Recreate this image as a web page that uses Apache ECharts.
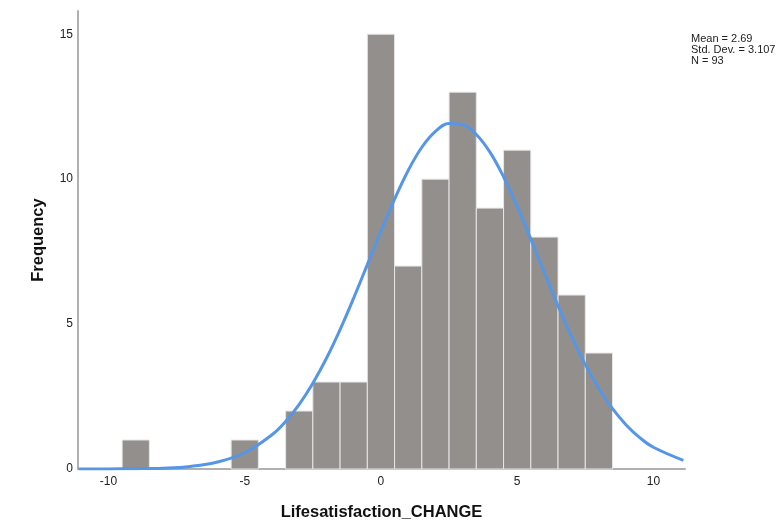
<!DOCTYPE html>
<html>
<head>
<meta charset="utf-8">
<script src="https://cdn.jsdelivr.net/npm/echarts@6/dist/echarts.min.js"></script>
<style>html,body{margin:0;padding:0;background:#fff}#c{width:784px;height:527px}</style>
</head>
<body>
<div id="c"></div>
<script>
// Histogram bins (centers, width 1) and counts
const binCenters = [-9, -5, -3, -2, -1, 0, 1, 2, 3, 4, 5, 6, 7, 8];
const binCounts  = [1, 1, 2, 3, 3, 15, 7, 10, 13, 9, 11, 8, 6, 4];
// Normal curve
const curveX = [-11.1, -10, -9, -8, -7, -6, -5, -4, -3.5, -3, -2.5, -2, -1.5, -1, -0.5, 0, 0.5, 1, 1.5, 2, 2.5, 3, 3.5, 4, 4.5, 5, 5.5, 6, 6.5, 7, 7.5, 8, 8.5, 9, 9.5, 10, 11.1];
const curveY = [0.001, 0.003, 0.01, 0.03, 0.09, 0.24, 0.56, 1.18, 1.64, 2.23, 2.96, 3.82, 4.81, 5.9, 7.05, 8.21, 9.31, 10.3, 11.1, 11.65, 11.92, 11.88, 11.54, 10.93, 10.08, 9.06, 7.93, 6.77, 5.63, 4.56, 3.6, 2.77, 2.08, 1.52, 1.08, 0.75, 0.3];
const xTicks = [-10, -5, 0, 5, 10];
const yTicks = [0, 5, 10, 15];
const statsLines = ['Mean = 2.69', 'Std. Dev. = 3.107', 'N = 93'];

const chart = echarts.init(document.getElementById('c'));
const font = 'Liberation Sans, Arial, sans-serif';
chart.setOption({
  animation: false,
  backgroundColor: '#fff',
  grid: {left: 78, right: 99, top: 11, bottom: 58},
  graphic: [{
    type: 'text', left: 691, top: 33,
    style: {text: statsLines.join('\n'), font: '11px ' + font, fill: '#222', lineHeight: 11}
  }],
  xAxis: {
    type: 'value', min: -11.12, max: 11.16,
    name: 'Lifesatisfaction_CHANGE', nameLocation: 'middle', nameGap: 35,
    nameTextStyle: {fontFamily: font, fontSize: 16.5, fontWeight: 'bold', color: '#111'},
    axisLine: {show: true, onZero: false, lineStyle: {color: '#b0b0b0', width: 2}},
    axisTick: {show: false}, splitLine: {show: false},
    axisLabel: {fontFamily: font, fontSize: 12, color: '#222', margin: 7, customValues: xTicks}
  },
  yAxis: {
    type: 'value', min: 0, max: 15.8,
    name: 'Frequency', nameLocation: 'middle', nameGap: 31,
    nameTextStyle: {fontFamily: font, fontSize: 16.5, fontWeight: 'bold', color: '#111'},
    axisLine: {show: true, onZero: false, lineStyle: {color: '#b0b0b0', width: 2}},
    axisTick: {show: false}, splitLine: {show: false},
    axisLabel: {fontFamily: font, fontSize: 12, color: '#222', margin: 5, padding: [3, 0, 0, 0], customValues: yTicks}
  },
  series: [{
    type: 'custom',
    data: binCenters.map((c, i) => [c, binCounts[i]]),
    renderItem: (params, api) => {
      const c = api.value(0), h = api.value(1);
      const p1 = api.coord([c - 0.5, h]);
      const p2 = api.coord([c + 0.5, 0]);
      return {type: 'rect', shape: {x: p1[0], y: p1[1], width: p2[0] - p1[0], height: p2[1] - p1[1]},
        style: {fill: '#938f8d', stroke: '#e6e6e6', lineWidth: 1}};
    },
    z: 2
  }, {
    type: 'line', smooth: 0.4, showSymbol: false,
    data: curveX.map((x, i) => [x, curveY[i]]),
    lineStyle: {color: '#5596e6', width: 3}, z: 3
  }]
});
</script>
</body>
</html>
